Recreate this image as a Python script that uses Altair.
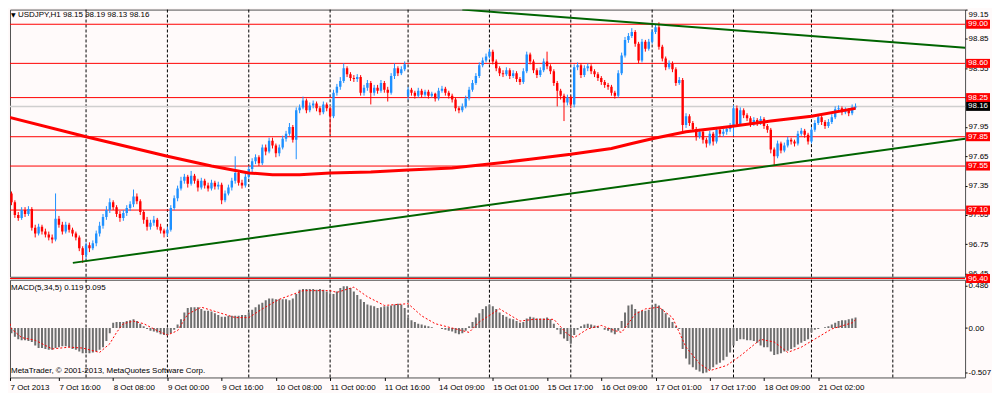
import altair as alt
import pandas as pd

# ---------------- data ----------------
opens = [
    97.29, 97.19, 97.27, 97.18, 97.05, 97.02, 97.10, 97.06, 97.11, 96.92,
    96.86, 96.93, 96.88, 96.85, 96.82, 96.80, 97.01, 96.95, 96.88, 96.95,
    96.90, 96.86, 96.82, 96.71, 96.64, 96.74, 96.71, 96.76, 96.86, 96.94,
    97.03, 97.10, 97.18, 97.13, 97.06, 97.02, 97.07, 97.12, 97.16, 97.24,
    97.19, 97.08, 97.00, 96.93, 96.97, 97.00, 96.93, 96.89, 96.86, 96.90,
    97.12, 97.22, 97.32, 97.40, 97.44, 97.37, 97.45, 97.40, 97.33, 97.40,
    97.35, 97.32, 97.38, 97.34, 97.36, 97.20, 97.27, 97.33, 97.40, 97.48,
    97.38, 97.35, 97.44, 97.52, 97.60, 97.64, 97.58, 97.74, 97.70, 97.81,
    97.76, 97.68, 97.74, 97.83, 97.88, 97.95, 97.82, 98.12, 98.15, 98.22,
    98.12, 98.17, 98.19, 98.14, 98.10, 98.18, 98.14, 98.06, 98.30, 98.36,
    98.42, 98.55, 98.49, 98.45, 98.44, 98.46, 98.30, 98.35, 98.40, 98.30,
    98.35, 98.32, 98.40, 98.33, 98.30, 98.47, 98.55, 98.50, 98.54, 98.27,
    98.33, 98.30, 98.27, 98.32, 98.28, 98.31, 98.27, 98.29, 98.24, 98.32,
    98.34, 98.30, 98.27, 98.23, 98.14, 98.12, 98.16, 98.24, 98.33, 98.40,
    98.47, 98.58, 98.63, 98.67, 98.72, 98.62, 98.55, 98.50, 98.49, 98.53,
    98.47, 98.50, 98.44, 98.41, 98.52, 98.69, 98.62, 98.53, 98.48, 98.53,
    98.62, 98.57, 98.52, 98.40, 98.32, 98.27, 98.20, 98.25, 98.18, 98.56,
    98.58, 98.48, 98.55, 98.57, 98.52, 98.49, 98.45, 98.41, 98.38, 98.36,
    98.30, 98.27, 98.50, 98.68, 98.84, 98.88, 98.92, 98.80, 98.63, 98.82,
    98.75, 98.82, 98.92, 98.97, 98.77, 98.65, 98.56, 98.60, 98.54, 98.40,
    98.43, 97.97, 98.06, 97.99, 97.93, 97.85, 97.90, 97.82, 97.78, 97.88,
    97.80, 97.92, 97.88, 97.90, 97.93, 97.96, 98.14, 97.98, 98.12, 98.07,
    98.04, 97.98, 98.02, 97.99, 98.03, 97.96, 97.92, 97.72, 97.65, 97.78,
    97.71, 97.76, 97.82, 97.80, 97.78, 97.88, 97.91, 97.87, 97.80, 97.92,
    97.99, 98.05, 98.00, 97.96, 98.00, 98.05, 98.13, 98.14, 98.10, 98.12,
    98.09, 98.15,
]
highs = [
    97.33, 97.30, 97.29, 97.20, 97.08, 97.13, 97.13, 97.14, 97.13, 96.95,
    96.96, 96.95, 96.91, 96.88, 96.85, 97.27, 97.04, 96.98, 96.98, 96.97,
    96.92, 96.88, 96.84, 96.73, 96.77, 96.77, 96.79, 96.89, 96.98, 97.06,
    97.14, 97.22, 97.20, 97.15, 97.09, 97.10, 97.15, 97.19, 97.31, 97.27,
    97.21, 97.10, 97.03, 97.00, 97.04, 97.02, 96.96, 96.91, 96.93, 97.15,
    97.25, 97.35, 97.44, 97.47, 97.46, 97.50, 97.47, 97.42, 97.43, 97.42,
    97.38, 97.41, 97.40, 97.39, 97.38, 97.30, 97.36, 97.43, 97.65, 97.50,
    97.41, 97.47, 97.55, 97.63, 97.67, 97.66, 97.77, 97.77, 97.84, 97.84,
    97.78, 97.77, 97.86, 97.91, 97.99, 97.97, 98.15, 98.18, 98.26, 98.24,
    98.20, 98.22, 98.21, 98.16, 98.21, 98.20, 98.16, 98.33, 98.39, 98.46,
    98.60, 98.57, 98.51, 98.48, 98.49, 98.48, 98.38, 98.43, 98.42, 98.38,
    98.38, 98.43, 98.42, 98.36, 98.50, 98.60, 98.57, 98.57, 98.62, 98.36,
    98.35, 98.32, 98.35, 98.34, 98.33, 98.33, 98.31, 98.30, 98.35, 98.37,
    98.36, 98.32, 98.29, 98.25, 98.16, 98.19, 98.27, 98.36, 98.43, 98.50,
    98.61, 98.66, 98.70, 98.75, 98.74, 98.64, 98.57, 98.53, 98.56, 98.55,
    98.53, 98.52, 98.46, 98.55, 98.72, 98.71, 98.64, 98.55, 98.56, 98.65,
    98.72, 98.59, 98.54, 98.42, 98.34, 98.29, 98.28, 98.27, 98.59, 98.61,
    98.60, 98.58, 98.60, 98.59, 98.54, 98.51, 98.47, 98.43, 98.40, 98.38,
    98.32, 98.53, 98.71, 98.87, 98.91, 98.96, 98.94, 98.82, 98.85, 98.84,
    98.85, 98.95, 99.00, 99.02, 98.79, 98.67, 98.63, 98.62, 98.56, 98.46,
    98.45, 98.09, 98.08, 98.01, 97.95, 97.93, 97.92, 97.84, 97.91, 97.90,
    97.95, 97.94, 97.93, 97.96, 97.99, 98.17, 98.17, 98.15, 98.14, 98.09,
    98.06, 98.05, 98.04, 98.06, 98.05, 97.98, 97.94, 97.74, 97.81, 97.80,
    97.79, 97.85, 97.84, 97.82, 97.91, 97.94, 97.93, 97.89, 97.95, 98.02,
    98.08, 98.07, 98.02, 98.03, 98.08, 98.16, 98.17, 98.16, 98.15, 98.14,
    98.18, 98.19,
]
lows = [
    97.15, 97.16, 97.15, 97.02, 96.99, 97.00, 97.03, 97.04, 96.89, 96.82,
    96.84, 96.85, 96.82, 96.79, 96.76, 96.78, 96.92, 96.85, 96.86, 96.87,
    96.83, 96.79, 96.68, 96.56, 96.60, 96.67, 96.69, 96.73, 96.83, 96.91,
    97.00, 97.07, 97.10, 97.03, 96.98, 96.99, 97.04, 97.09, 97.13, 97.16,
    97.05, 96.96, 96.89, 96.90, 96.94, 96.90, 96.86, 96.82, 96.83, 96.88,
    97.10, 97.19, 97.30, 97.37, 97.33, 97.35, 97.37, 97.29, 97.31, 97.32,
    97.29, 97.30, 97.31, 97.31, 97.16, 97.18, 97.25, 97.30, 97.37, 97.35,
    97.32, 97.33, 97.42, 97.49, 97.57, 97.55, 97.56, 97.66, 97.68, 97.73,
    97.64, 97.65, 97.72, 97.80, 97.86, 97.79, 97.62, 98.09, 98.13, 98.09,
    98.10, 98.14, 98.11, 98.07, 98.08, 98.11, 97.87, 98.04, 98.27, 98.33,
    98.40, 98.46, 98.42, 98.41, 98.41, 98.27, 98.27, 98.32, 98.18, 98.27,
    98.29, 98.30, 98.30, 98.21, 98.28, 98.44, 98.47, 98.48, 98.52, 98.23,
    98.27, 98.24, 98.25, 98.25, 98.26, 98.24, 98.25, 98.21, 98.22, 98.30,
    98.27, 98.24, 98.20, 98.11, 98.09, 98.10, 98.14, 98.22, 98.31, 98.38,
    98.45, 98.56, 98.61, 98.65, 98.59, 98.52, 98.47, 98.46, 98.47, 98.44,
    98.45, 98.41, 98.38, 98.39, 98.50, 98.59, 98.50, 98.45, 98.46, 98.51,
    98.54, 98.49, 98.37, 98.16, 98.23, 98.01, 98.17, 98.14, 98.15, 98.53,
    98.45, 98.46, 98.52, 98.49, 98.46, 98.42, 98.38, 98.35, 98.33, 98.27,
    98.24, 98.25, 98.48, 98.66, 98.81, 98.86, 98.77, 98.60, 98.61, 98.72,
    98.73, 98.80, 98.90, 98.74, 98.62, 98.53, 98.54, 98.51, 98.37, 98.38,
    97.88, 97.94, 97.96, 97.90, 97.81, 97.83, 97.78, 97.74, 97.76, 97.76,
    97.78, 97.85, 97.85, 97.87, 97.90, 97.86, 97.95, 97.96, 98.04, 98.01,
    97.95, 97.96, 97.96, 97.97, 97.93, 97.89, 97.68, 97.56, 97.63, 97.68,
    97.69, 97.74, 97.77, 97.75, 97.76, 97.86, 97.84, 97.77, 97.78, 97.90,
    97.97, 97.97, 97.93, 97.94, 97.98, 98.03, 98.11, 98.07, 98.08, 98.06,
    98.07, 98.13,
]
closes = [
    97.19, 97.27, 97.18, 97.05, 97.02, 97.10, 97.06, 97.11, 96.92, 96.86,
    96.93, 96.88, 96.85, 96.82, 96.80, 97.01, 96.95, 96.88, 96.95, 96.90,
    96.86, 96.82, 96.71, 96.64, 96.74, 96.71, 96.76, 96.86, 96.94, 97.03,
    97.10, 97.18, 97.13, 97.06, 97.02, 97.07, 97.12, 97.16, 97.24, 97.19,
    97.08, 97.00, 96.93, 96.97, 97.00, 96.93, 96.89, 96.86, 96.90, 97.12,
    97.22, 97.32, 97.40, 97.44, 97.37, 97.45, 97.40, 97.33, 97.40, 97.35,
    97.32, 97.38, 97.34, 97.36, 97.20, 97.27, 97.33, 97.40, 97.48, 97.38,
    97.35, 97.44, 97.52, 97.60, 97.64, 97.58, 97.74, 97.70, 97.81, 97.76,
    97.68, 97.74, 97.83, 97.88, 97.95, 97.82, 98.12, 98.15, 98.22, 98.12,
    98.17, 98.19, 98.14, 98.10, 98.18, 98.14, 98.06, 98.30, 98.36, 98.42,
    98.55, 98.49, 98.45, 98.44, 98.46, 98.30, 98.35, 98.40, 98.30, 98.35,
    98.32, 98.40, 98.33, 98.30, 98.47, 98.55, 98.50, 98.54, 98.59, 98.33,
    98.30, 98.27, 98.32, 98.28, 98.31, 98.27, 98.29, 98.24, 98.32, 98.34,
    98.30, 98.27, 98.23, 98.14, 98.12, 98.16, 98.24, 98.33, 98.40, 98.47,
    98.58, 98.63, 98.67, 98.72, 98.62, 98.55, 98.50, 98.49, 98.53, 98.47,
    98.50, 98.44, 98.41, 98.52, 98.69, 98.62, 98.53, 98.48, 98.53, 98.62,
    98.57, 98.52, 98.40, 98.32, 98.27, 98.20, 98.25, 98.18, 98.56, 98.58,
    98.48, 98.55, 98.57, 98.52, 98.49, 98.45, 98.41, 98.38, 98.36, 98.30,
    98.27, 98.50, 98.68, 98.84, 98.88, 98.92, 98.80, 98.63, 98.82, 98.75,
    98.82, 98.92, 98.97, 98.77, 98.65, 98.56, 98.60, 98.54, 98.40, 98.43,
    97.97, 98.06, 97.99, 97.93, 97.85, 97.90, 97.82, 97.78, 97.88, 97.80,
    97.92, 97.88, 97.90, 97.93, 97.96, 98.14, 97.98, 98.12, 98.07, 98.04,
    97.98, 98.02, 97.99, 98.03, 97.96, 97.92, 97.72, 97.65, 97.78, 97.71,
    97.76, 97.82, 97.80, 97.78, 97.88, 97.91, 97.87, 97.80, 97.92, 97.99,
    98.05, 98.00, 97.96, 98.00, 98.05, 98.13, 98.14, 98.10, 98.12, 98.09,
    98.15, 98.16,
]

# moving average (thick red line), read at these bars
ma_bars = [0, 24, 48, 61, 72, 79, 87, 96, 108, 119, 132, 143, 155, 167, 179,
           185, 191, 201, 213, 226, 238, 251]
ma_values = [98.06, 97.85, 97.65, 97.55, 97.48, 97.46, 97.46, 97.48, 97.49,
             97.51, 97.53, 97.57, 97.62, 97.67, 97.73, 97.78, 97.83, 97.90,
             97.95, 98.01, 98.06, 98.14]

# MACD(5,34,5) histogram, one per bar
macd_hist = [
    0.02, -0.02, -0.06, -0.10, -0.13, -0.14, -0.14, -0.15, -0.16, -0.20,
    -0.23, -0.23, -0.24, -0.25, -0.25, -0.23, -0.22, -0.21, -0.21, -0.22,
    -0.24, -0.25, -0.27, -0.29, -0.29, -0.29, -0.28, -0.27, -0.25, -0.22,
    -0.15, -0.06, 0.06, 0.07, 0.07, 0.07, 0.08, 0.09, 0.10, 0.08,
    0.05, 0.02, -0.01, -0.03, -0.04, -0.05, -0.07, -0.08, -0.08, -0.06,
    -0.02, 0.04, 0.10, 0.18, 0.23, 0.24, 0.24, 0.24, 0.22, 0.20,
    0.20, 0.19, 0.17, 0.15, 0.13, 0.13, 0.14, 0.14, 0.14, 0.14,
    0.15, 0.15, 0.18, 0.21, 0.24, 0.27, 0.29, 0.32, 0.34, 0.34,
    0.33, 0.33, 0.33, 0.33, 0.32, 0.34, 0.39, 0.44, 0.45, 0.45,
    0.45, 0.45, 0.44, 0.45, 0.44, 0.42, 0.40, 0.39, 0.42, 0.46,
    0.48, 0.48, 0.46, 0.42, 0.38, 0.33, 0.30, 0.27, 0.26, 0.25,
    0.23, 0.24, 0.25, 0.25, 0.26, 0.27, 0.28, 0.27, 0.23, 0.12,
    0.09, 0.07, 0.05, 0.04, 0.03, 0.02, 0.01, 0.00, 0.00, -0.01,
    -0.02, -0.03, -0.04, -0.06, -0.07, -0.06, -0.03, 0.02, 0.07, 0.12,
    0.17, 0.22, 0.25, 0.27, 0.25, 0.22, 0.18, 0.15, 0.13, 0.11,
    0.10, 0.08, 0.06, 0.07, 0.11, 0.13, 0.12, 0.11, 0.11, 0.11,
    0.12, 0.10, 0.05, -0.02, -0.07, -0.12, -0.15, -0.18, -0.08, -0.02,
    0.02, 0.04, 0.05, 0.04, 0.03, 0.02, 0.00, -0.02, -0.03, -0.05,
    -0.07, -0.03, 0.08, 0.18, 0.26, 0.27, 0.22, 0.19, 0.20, 0.20,
    0.21, 0.24, 0.28, 0.26, 0.22, 0.17, 0.12, 0.07, 0.02, -0.01,
    -0.24, -0.35, -0.42, -0.45, -0.48, -0.50, -0.52, -0.51, -0.48, -0.45,
    -0.42, -0.40, -0.37, -0.33, -0.28, -0.20, -0.15, -0.13, -0.13, -0.14,
    -0.14, -0.15, -0.17, -0.20, -0.22, -0.22, -0.27, -0.31, -0.30, -0.29,
    -0.27, -0.26, -0.24, -0.22, -0.19, -0.17, -0.15, -0.13, -0.05, -0.02,
    -0.01, 0.00, 0.01, 0.02, 0.04, 0.06, 0.08, 0.09, 0.09, 0.10,
    0.11, 0.12,
]
# MACD signal (red dotted), read at these bars
signal_bars = [0, 2, 5, 9, 14, 19, 23, 28, 31, 33,
               35, 38, 41, 45, 48, 51, 54, 58, 63, 68,
               72, 76, 81, 88, 96, 98, 103, 107, 112, 119,
               123, 127, 137, 140, 146, 152, 156, 162, 166, 168,
               172, 176, 180, 182, 186, 189, 193, 197, 201, 205,
               208, 213, 217, 223, 227, 231, 235, 238, 244, 250,
               251]
signal_values = [0.05, -0.01, -0.11, -0.14, -0.24, -0.22, -0.23, -0.28, -0.18, -0.05,
                 0.05, 0.08, 0.05, -0.03, -0.08, -0.03, 0.16, 0.24, 0.18, 0.12,
                 0.12, 0.22, 0.33, 0.43, 0.43, 0.41, 0.47, 0.36, 0.26, 0.28,
                 0.14, 0.05, -0.05, 0.07, 0.22, 0.08, 0.10, 0.10, -0.07, -0.11,
                 -0.01, 0.03, -0.03, -0.05, 0.16, 0.22, 0.24, 0.12, -0.22, -0.41,
                 -0.49, -0.43, -0.32, -0.13, -0.16, -0.28, -0.22, -0.15, -0.01, 0.06,
                 0.095]

levels = [99.00, 98.60, 98.25, 97.85, 97.55, 97.10, 96.40]
bid = 98.16
price_ticks = [96.45, 96.75, 97.05, 97.35, 97.65, 97.95, 98.25, 98.55, 98.85, 99.15]
macd_ticks = [0.486, 0.0, -0.507]

upper_tl_bars = [135.0, 283.32]
upper_tl_prices = [99.15, 98.76]
lower_tl_bars = [20.1, 283.32]
lower_tl_prices = [96.56, 97.83]

grid_bars = [24, 48, 72, 96, 119, 143, 167, 191, 215, 238, 262]
label_bars = [0, 16, 32, 48, 64, 80, 96, 112, 128, 144, 160, 176, 192, 208, 224, 240]
time_labels = ["7 Oct 2013", "7 Oct 16:00", "8 Oct 08:00", "9 Oct 00:00",
               "9 Oct 16:00", "10 Oct 08:00", "11 Oct 00:00", "11 Oct 16:00",
               "14 Oct 09:00", "15 Oct 01:00", "15 Oct 17:00", "16 Oct 09:00",
               "17 Oct 01:00", "17 Oct 17:00", "18 Oct 09:00", "21 Oct 02:00"]

title_marker = "\u25bc"
title_text = "USDJPY,H1  98.15 98.19 98.13 98.16"
macd_text = "MACD(5,34,5) 0.119 0.095"
copyright_text = "MetaTrader, \u00a9 2001-2013, MetaQuotes Software Corp."

# ---------------- styling ----------------
FONT = "Liberation Sans"
BG = "#FFFAFA"
BULL = "#1E90FF"
BEAR = "#FF0000"
GREEN = "#006400"
W = 958
H_MAIN = 268
H_MACD = 98
X_DOMAIN = [1.56, 283.32]
Y_DOMAIN = [96.418, 99.15]
M_DOMAIN = [-0.568, 0.555]
BOX_W = 24

bars = list(range(len(closes)))
candles = pd.DataFrame({"bar": bars, "o": opens, "h": highs, "l": lows, "c": closes})

x_main = alt.Scale(domain=X_DOMAIN, nice=False, zero=False)
x_macd = alt.Scale(domain=X_DOMAIN, nice=False, zero=False, clamp=True)
y_main = alt.Scale(domain=Y_DOMAIN, nice=False, zero=False)
y_macd = alt.Scale(domain=M_DOMAIN, nice=False, zero=False)

price_axis = alt.Axis(
    orient="right", values=price_ticks, format=".2f", labelAlign="left",
    labelBaseline="middle", labelPadding=1, tickSize=2, tickColor="#000000",
    labelColor="#000000", labelFont=FONT, labelFontSize=8, domain=False,
    grid=False, title=None, labelFlush=False, labelOverlap=False, labelBound=False,
    labelOffset={"condition": {"test": "datum.value > 99.1", "value": 5}, "value": 0},
)
labels_js = "[" + ",".join("'" + s + "'" for s in time_labels) + "]"
time_axis = alt.Axis(
    values=label_bars, labelExpr=labels_js + "[round(datum.value / 16)]",
    labelAlign="left", labelBaseline="top", labelPadding=3, tickSize=3,
    tickColor="#000000", labelColor="#000000", labelFont=FONT, labelFontSize=8,
    domain=False, grid=False, title=None, labelFlush=False, labelOverlap=False,
    labelBound=False,
)
macd_axis = alt.Axis(
    orient="right", values=macd_ticks,
    labelExpr="datum.value == 0 ? '0.00' : replace(format(datum.value, '.3f'), '\u2212', '-')",
    labelAlign="left", labelBaseline="middle", labelPadding=1, tickSize=2,
    tickColor="#000000", labelColor="#000000", labelFont=FONT, labelFontSize=8,
    domain=False, grid=False, title=None, labelFlush=False, labelOverlap=False,
    labelBound=False,
)


def xm(field="bar"):
    return alt.X(f"{field}:Q", scale=x_main, axis=None)


def ym(field):
    return alt.Y(f"{field}:Q", scale=y_main, axis=price_axis)


candle_color = alt.condition("datum.c >= datum.o", alt.value(BULL), alt.value(BEAR))

grid_df = pd.DataFrame({"bar": grid_bars})
grid_main = alt.Chart(grid_df).mark_rule(color="#000000", strokeDash=[3, 2], strokeWidth=1).encode(x=xm())

levels_df = pd.DataFrame({"p": levels})
levels_layer = alt.Chart(levels_df).mark_rule(color=BEAR, strokeWidth=1).encode(y=ym("p"))

bid_df = pd.DataFrame({"p": [bid]})
bid_layer = alt.Chart(bid_df).mark_rule(color="#CFCFCF", strokeWidth=1.5).encode(y=ym("p"))

wicks = alt.Chart(candles).mark_rule(strokeWidth=1, clip=True).encode(
    x=xm(), y=ym("l"), y2="h:Q", color=candle_color)
bodies = alt.Chart(candles).mark_rule(strokeWidth=2.4, clip=True).encode(
    x=xm(), y=ym("o"), y2="c:Q", color=candle_color)

ma_df = pd.DataFrame({"bar": ma_bars, "p": ma_values})
ma_layer = alt.Chart(ma_df).mark_line(color=BEAR, strokeWidth=3, clip=True).encode(x=xm(), y=ym("p"))

trend_df = pd.DataFrame({
    "bar": upper_tl_bars + lower_tl_bars,
    "p": upper_tl_prices + lower_tl_prices,
    "line": ["upper"] * len(upper_tl_bars) + ["lower"] * len(lower_tl_bars),
})
trend_layer = alt.Chart(trend_df).mark_line(color=GREEN, strokeWidth=2, clip=True).encode(
    x=xm(), y=ym("p"), detail="line:N")

box_layer = alt.Chart(levels_df).mark_tick(
    orient="horizontal", color=BEAR, thickness=9, size=BOX_W, opacity=1
).encode(y=ym("p"), x=alt.value(W + 1 + BOX_W / 2))
box_text = alt.Chart(levels_df).mark_text(
    align="left", baseline="middle", color="white", font=FONT, fontSize=8
).encode(y=ym("p"), x=alt.value(W + 3), text=alt.Text("p:Q", format=".2f"))
bid_box = alt.Chart(bid_df).mark_tick(
    orient="horizontal", color="#000000", thickness=9, size=BOX_W, opacity=1
).encode(y=ym("p"), x=alt.value(W + 1 + BOX_W / 2))
bid_text = alt.Chart(bid_df).mark_text(
    align="left", baseline="middle", color="white", font=FONT, fontSize=8
).encode(y=ym("p"), x=alt.value(W + 3), text=alt.Text("p:Q", format=".2f"))

marker_layer = alt.Chart(pd.DataFrame({"t": [title_marker]})).mark_text(
    align="left", baseline="middle", font="DejaVu Sans", fontSize=6, color="#000000"
).encode(x=alt.value(1), y=alt.value(5.5), text="t:N")
title_layer = alt.Chart(pd.DataFrame({"t": [title_text]})).mark_text(
    align="left", baseline="middle", font=FONT, fontSize=8, color="#000000"
).encode(x=alt.value(8), y=alt.value(5.5), text="t:N")

main = alt.layer(
    grid_main, levels_layer, bid_layer, wicks, bodies, ma_layer, trend_layer,
    box_layer, box_text, bid_box, bid_text, marker_layer, title_layer,
).properties(width=W, height=H_MAIN)

# ---------------- MACD panel ----------------


def xd(field="bar"):
    return alt.X(f"{field}:Q", scale=x_macd, axis=time_axis)


def yd(field):
    return alt.Y(f"{field}:Q", scale=y_macd, axis=macd_axis)


grid_macd = alt.Chart(grid_df).mark_rule(color="#000000", strokeDash=[3, 2], strokeWidth=1).encode(x=xd())
hist_df = pd.DataFrame({"bar": bars, "v": macd_hist})
hist_layer = alt.Chart(hist_df).mark_rule(color="#6E6E6E", strokeWidth=2, clip=True).encode(
    x=xd(), y=yd("v"), y2=alt.datum(0))
sig_df = pd.DataFrame({"bar": signal_bars, "v": signal_values})
sig_layer = alt.Chart(sig_df).mark_line(color=BEAR, strokeDash=[2, 2], strokeWidth=1, clip=True).encode(
    x=xd(), y=yd("v"))
macd_label = alt.Chart(pd.DataFrame({"t": [macd_text]})).mark_text(
    align="left", baseline="middle", font=FONT, fontSize=8, color="#000000"
).encode(x=alt.value(1), y=alt.value(8), text="t:N")
copy_label = alt.Chart(pd.DataFrame({"t": [copyright_text]})).mark_text(
    align="left", baseline="middle", font=FONT, fontSize=8, color="#000000"
).encode(x=alt.value(1), y=alt.value(92), text="t:N")

macd = alt.layer(grid_macd, hist_layer, sig_layer, macd_label, copy_label).properties(
    width=W, height=H_MACD)

chart = alt.vconcat(main, macd, spacing=3, bounds="flush").properties(
    background=BG, padding={"left": 0, "top": 0, "right": 0, "bottom": 0}
).configure_view(stroke="#505050", strokeWidth=1, fill=BG)

chart.save("out.html", embed_options={"renderer": "svg", "actions": False})
